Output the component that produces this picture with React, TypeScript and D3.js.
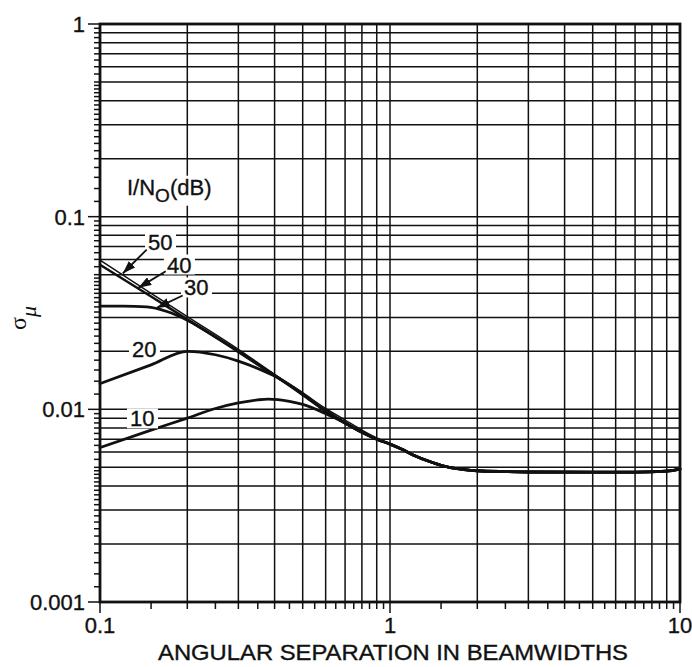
import React from "react";
import * as d3 from "d3";

// ---- axis ticks ----
const xMajor = [0.1, 1, 10];
const xMajorLabels = ["0.1", "1", "10"];
const yMajor = [1, 0.1, 0.01, 0.001];
const yMajorLabels = ["1", "0.1", "0.01", "0.001"];

// ---- curves (I/N0 in dB) : head parts, then common tail ----
const tailX = [1.0, 1.1, 1.2, 1.4, 1.6, 1.8, 2, 2.5, 3, 5, 7, 9, 10];
const tailY = [0.0066, 0.0062, 0.0058, 0.0053, 0.005, 0.00487, 0.0048, 0.00475, 0.00473, 0.00472, 0.00472, 0.00478, 0.0049];

const x50 = [0.1, 0.15, 0.2, 0.3, 0.4, 0.5, 0.6, 0.7, 0.8, 0.9];
const y50 = [0.0595, 0.04, 0.0303, 0.0205, 0.0152, 0.0122, 0.0101, 0.0088, 0.0078, 0.0071];

const x40 = [0.1, 0.15, 0.2, 0.3, 0.4, 0.5, 0.6, 0.7, 0.8, 0.9];
const y40 = [0.0563, 0.0385, 0.0293, 0.02, 0.015, 0.012, 0.0098, 0.0085, 0.0076, 0.007];

const x30 = [0.1, 0.12, 0.145, 0.17, 0.2, 0.25, 0.3, 0.4, 0.5, 0.6, 0.7, 0.8, 0.9];
const y30 = [0.0343, 0.0343, 0.034, 0.0322, 0.029, 0.0237, 0.0199, 0.015, 0.012, 0.0098, 0.0085, 0.0076, 0.007];

const x20 = [0.1, 0.15, 0.2, 0.25, 0.3, 0.35, 0.4, 0.5, 0.6, 0.7, 0.8, 0.9];
const y20 = [0.0136, 0.017, 0.02, 0.0192, 0.0178, 0.0163, 0.0149, 0.0119, 0.0098, 0.0085, 0.0076, 0.007];

const x10 = [0.1, 0.15, 0.2, 0.25, 0.3, 0.35, 0.38, 0.45, 0.5, 0.6, 0.7, 0.8, 0.9];
const y10 = [0.00633, 0.0078, 0.009, 0.0101, 0.0108, 0.0112, 0.0113, 0.011, 0.0106, 0.0095, 0.0085, 0.0076, 0.007];

const seriesLabels = ["50", "40", "30", "20", "10"];
const seriesX = [x50, x40, x30, x20, x10];
const seriesY = [y50, y40, y30, y20, y10];
const seriesWidth = [1.5, 2.5, 2.8, 2.8, 2.8];

// ---- curve labels (text start, baseline) in data units ----
const labelX = [0.1464, 0.1701, 0.1948, 0.1289, 0.1269];
const labelY = [0.0675, 0.0513, 0.039, 0.0188, 0.00816];

// ---- arrows: tail -> tip in data units (for 50, 40, 30) ----
const arrowTailX = [0.1449, 0.1685, 0.1928];
const arrowTailY = [0.0675, 0.0521, 0.039];
const arrowTipX = [0.1198, 0.1356, 0.1568];
const arrowTipY = [0.0507, 0.0427, 0.0336];

const legendTitleX = 0.1239;
const legendTitleY = 0.13;

const W = 692;
const H = 667;
const PL = 100, PR = 680, PT = 24, PB = 602;
const FONT = "'Liberation Sans', Arial, Helvetica, sans-serif";
const INK = "#111";

export default function App() {
  const x = d3.scaleLog().domain([0.1, 10]).range([PL, PR]);
  const y = d3.scaleLog().domain([0.001, 1]).range([PB, PT]);

  const vGrid: number[] = [];
  [0.1, 1].forEach((k) => {
    for (let m = 2; m <= 9; m++) vGrid.push(m * k);
  });
  vGrid.push(1);
  const hGrid: number[] = [];
  [0.001, 0.01, 0.1].forEach((k) => {
    for (let m = 2; m <= 9; m++) hGrid.push(m * k);
  });
  hGrid.push(0.01, 0.1);

  const xMinorTicks: number[] = [];
  [0.1, 1].forEach((k) => {
    for (let m = 1.5; m < 10; m += 0.5) xMinorTicks.push(m * k);
  });
  const yMinorTicks: number[] = [];
  [0.001, 0.01, 0.1].forEach((k) => {
    for (let m = 1.2; m < 5; m += 0.2) yMinorTicks.push(m * k);
    for (let m = 5; m < 10; m += 0.5) yMinorTicks.push(m * k);
  });

  const line = d3
    .line<[number, number]>()
    .x((d) => x(d[0]))
    .y((d) => y(d[1]))
    .curve(d3.curveMonotoneX);

  const paths = seriesX.map((xs, i) => {
    const pts: [number, number][] = xs.map((v, j) => [v, seriesY[i][j]]);
    tailX.forEach((v, j) => pts.push([v, tailY[j]]));
    return line(pts) as string;
  });

  const fs = 22;
  const txtStroke = { stroke: INK, strokeWidth: 0.35 };

  return (
    <svg
      width={W}
      height={H}
      style={{ position: "absolute", left: 0, top: 0, background: "#fff" }}
      fontFamily={FONT}
    >
      <defs>
        <marker
          id="arr"
          markerUnits="userSpaceOnUse"
          viewBox="0 0 13 9"
          refX={13}
          refY={4.5}
          markerWidth={13}
          markerHeight={9}
          orient="auto"
        >
          <path d="M0,0 L13,4.5 L0,9 z" fill={INK} />
        </marker>
      </defs>
      <rect x={0} y={0} width={W} height={H} fill="#fff" />

      {/* grid */}
      <g stroke={INK} strokeWidth={1.5}>
        {vGrid.map((v, i) => (
          <line key={"v" + i} x1={x(v)} x2={x(v)} y1={PT} y2={PB} />
        ))}
        {hGrid.map((v, i) => (
          <line key={"h" + i} x1={PL} x2={PR} y1={y(v)} y2={y(v)} />
        ))}
      </g>

      {/* curves */}
      <g fill="none" stroke={INK} strokeLinejoin="round" strokeLinecap="round">
        {paths
          .map((p, i) => ({ p, i }))
          .reverse()
          .map(({ p, i }) => (
            <path key={"c" + i} d={p} strokeWidth={seriesWidth[i]} />
          ))}
      </g>

      {/* legend title */}
      <rect
        x={x(legendTitleX) - 3}
        y={y(legendTitleY) - 19}
        width={92}
        height={30}
        fill="#fff"
      />
      <text x={x(legendTitleX)} y={y(legendTitleY)} fontSize={fs} fill={INK} {...txtStroke}>
        I/N
        <tspan fontSize={19} dy={7}>
          O
        </tspan>
        <tspan dy={-7}>(dB)</tspan>
      </text>

      {/* curve labels */}
      {seriesLabels.map((s, i) => (
        <g key={"l" + i}>
          <rect
            x={x(labelX[i]) - 3}
            y={y(labelY[i]) - 18}
            width={31}
            height={20}
            fill="#fff"
          />
          <text x={x(labelX[i])} y={y(labelY[i])} fontSize={fs} fill={INK} {...txtStroke}>
            {s}
          </text>
        </g>
      ))}

      {/* arrows */}
      {arrowTailX.map((v, i) => (
        <line
          key={"a" + i}
          x1={x(v)}
          y1={y(arrowTailY[i])}
          x2={x(arrowTipX[i])}
          y2={y(arrowTipY[i])}
          stroke={INK}
          strokeWidth={1.8}
          markerEnd="url(#arr)"
        />
      ))}

      {/* frame */}
      <rect
        x={PL}
        y={PT}
        width={PR - PL}
        height={PB - PT}
        fill="none"
        stroke={INK}
        strokeWidth={2.8}
      />

      {/* ticks */}
      <g stroke={INK} strokeWidth={1.5}>
        {yMajor.map((v, i) => (
          <line key={"ym" + i} x1={PL - 12} x2={PL} y1={y(v)} y2={y(v)} />
        ))}
        {yMinorTicks.map((v, i) => (
          <line key={"yn" + i} x1={PL - 6} x2={PL} y1={y(v)} y2={y(v)} />
        ))}
        {xMajor.map((v, i) => (
          <line key={"xm" + i} x1={x(v)} x2={x(v)} y1={PB} y2={PB + 11} />
        ))}
        {xMinorTicks.map((v, i) => (
          <line key={"xn" + i} x1={x(v)} x2={x(v)} y1={PB} y2={PB + 7} />
        ))}
      </g>

      {/* tick labels */}
      {yMajor.map((v, i) => (
        <text
          key={"yl" + i}
          x={PL - 15}
          y={y(v) + 8}
          fontSize={fs}
          textAnchor="end"
          fill={INK}
          {...txtStroke}
        >
          {yMajorLabels[i]}
        </text>
      ))}
      {xMajor.map((v, i) => (
        <text
          key={"xl" + i}
          x={x(v)}
          y={PB + 31}
          fontSize={fs}
          textAnchor="middle"
          fill={INK}
          {...txtStroke}
        >
          {xMajorLabels[i]}
        </text>
      ))}

      {/* axis titles */}
      <text
        x={x(1) + 3}
        y={PB + 58}
        fontSize={fs}
        textAnchor="middle"
        fill={INK}
        textLength={470}
        lengthAdjust="spacingAndGlyphs"
        {...txtStroke}
      >
        ANGULAR SEPARATION IN BEAMWIDTHS
      </text>
      <text
        transform={`translate(26, 318) rotate(-90)`}
        fontSize={24}
        fontFamily="'Liberation Serif', 'DejaVu Serif', serif"
        fill={INK}
        textAnchor="middle"
      >
        σ
        <tspan fontStyle="italic" dy={10} fontSize={22}>
          μ
        </tspan>
      </text>
    </svg>
  );
}
